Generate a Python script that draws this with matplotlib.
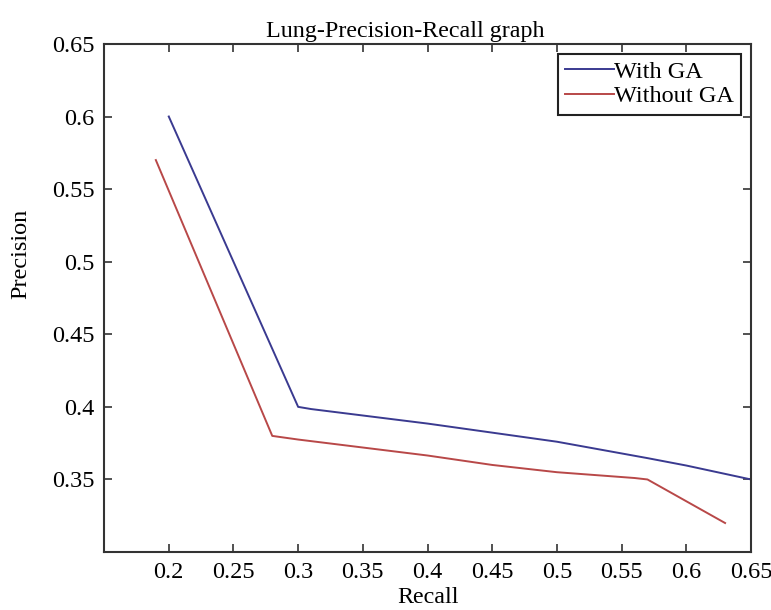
import matplotlib
matplotlib.use('Agg')
import matplotlib.pyplot as plt

# values
recall_ga = [0.2, 0.3, 0.31, 0.4, 0.5, 0.57, 0.6, 0.65]
precision_ga = [0.6, 0.4, 0.3985, 0.3885, 0.376, 0.3647, 0.3596, 0.35]

recall_noga = [0.19, 0.28, 0.3, 0.4, 0.45, 0.5, 0.56, 0.57, 0.63]
precision_noga = [0.57, 0.38, 0.3775, 0.3665, 0.360, 0.355, 0.351, 0.35, 0.32]

xticks = [0.2, 0.25, 0.3, 0.35, 0.4, 0.45, 0.5, 0.55, 0.6, 0.65]
yticks = [0.35, 0.4, 0.45, 0.5, 0.55, 0.6, 0.65]

plt.rcParams['font.family'] = ['Liberation Serif', 'DejaVu Serif']

fig = plt.figure(figsize=(7.71, 6.1), dpi=100)
ax = fig.add_axes([0.135, 0.095, 0.839, 0.833])

ax.plot(recall_ga, precision_ga, color='#3a3a90', lw=1.4, label='With GA')
ax.plot(recall_noga, precision_noga, color='#b84848', lw=1.4, label='Without GA')

ax.set_xlim(0.15, 0.65)
ax.set_ylim(0.3, 0.65)
ax.set_xticks(xticks)
ax.set_yticks(yticks)
ax.set_xticklabels([f'{v:g}' for v in xticks])
ax.set_yticklabels([f'{v:g}' for v in yticks])
ax.tick_params(direction='in', top=True, right=True, length=6, width=1.2,
               labelsize=17.5, color='#333333', pad=7)
for s in ax.spines.values():
    s.set_linewidth(1.5)
    s.set_color('#333333')

ax.set_title('Lung-Precision-Recall graph', fontsize=17.3, x=0.465, pad=5)
ax.set_xlabel('Recall', fontsize=17.3)
ax.set_ylabel('Precision', fontsize=17.5)
ax.xaxis.set_label_coords(0.5, -0.068)
ax.yaxis.set_label_coords(-0.112, 0.587)

leg = ax.legend(loc='upper right', fontsize=17.5, handlelength=2.0,
                handletextpad=0.0, borderaxespad=0.4, borderpad=0.3,
                labelspacing=0.1, fancybox=False, framealpha=1)
leg.get_frame().set_edgecolor('#222222')
leg.get_frame().set_linewidth(1.5)

fig.savefig('out.png', dpi=100)
